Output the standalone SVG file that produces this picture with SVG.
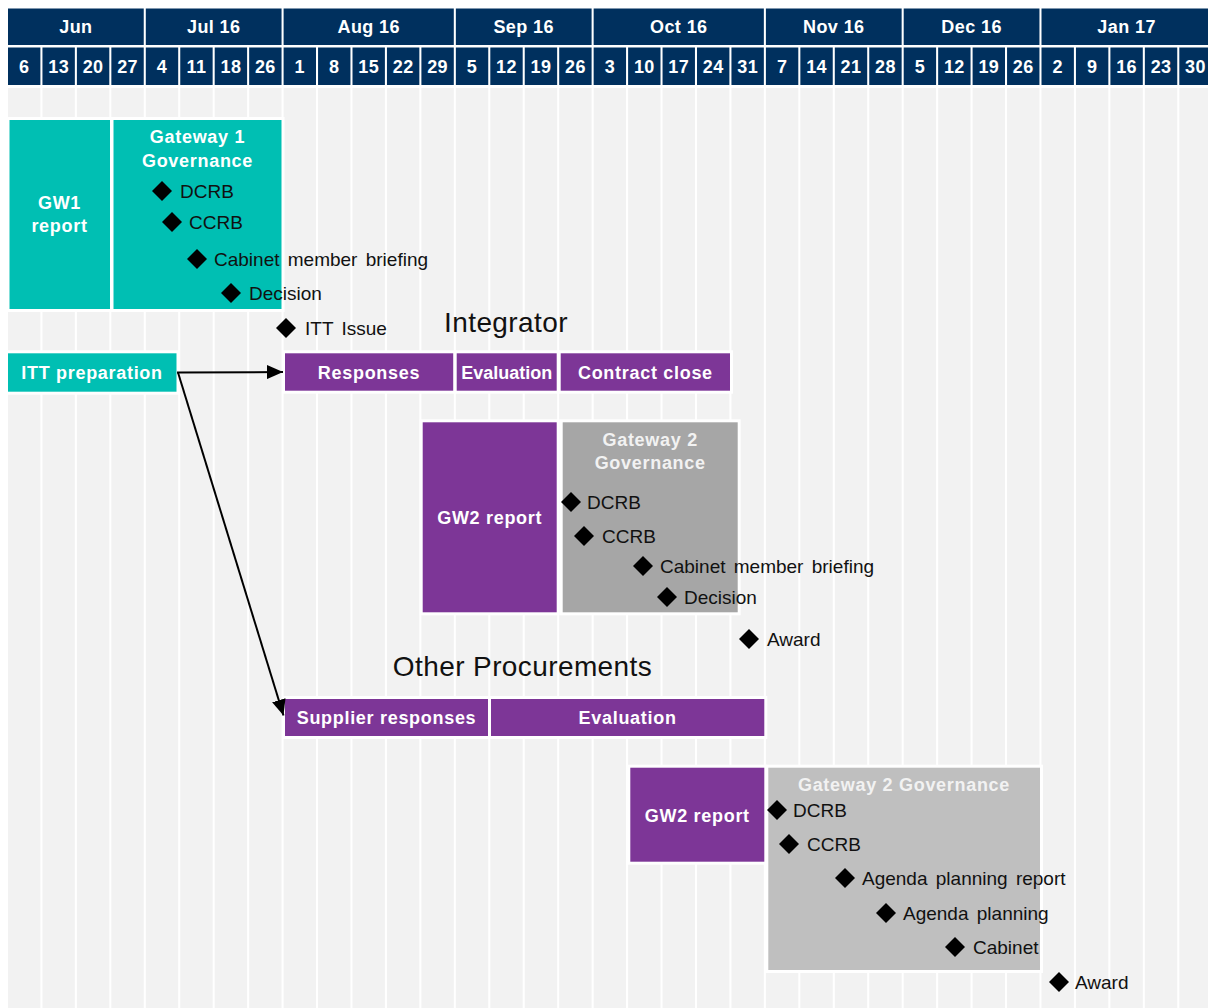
<svg xmlns="http://www.w3.org/2000/svg" width="1208" height="1008" viewBox="0 0 1208 1008">
<style>
.hdr{fill:#00305E}
.col{fill:#F2F2F2}
.ht{font-family:"Liberation Sans",Arial,sans-serif;font-weight:bold;font-size:18px;fill:#fff;text-anchor:middle;letter-spacing:0.4px}
.teal{fill:#00BFB3;stroke:#fff;stroke-width:3}
.purple{fill:#7D3697;stroke:#fff;stroke-width:3}
.gray1{fill:#A6A6A6;stroke:#fff;stroke-width:3}
.gray2{fill:#BFBFBF;stroke:#fff;stroke-width:3}
.bt{font-family:"Liberation Sans",Arial,sans-serif;font-weight:bold;font-size:18px;fill:#fff;text-anchor:middle;letter-spacing:0.7px}
.gt{font-family:"Liberation Sans",Arial,sans-serif;font-weight:bold;font-size:18px;fill:#F2F2F2;text-anchor:middle;letter-spacing:0.7px}
.lt{font-family:"Liberation Sans",Arial,sans-serif;font-size:19px;fill:#111;word-spacing:3px}
.title{font-family:"Liberation Sans",Arial,sans-serif;font-size:28px;fill:#111;text-anchor:middle;letter-spacing:0.4px}
.dm{fill:#000}
.conn{stroke:#000;stroke-width:2;fill:none}
</style>
<defs>
<marker id="arr" markerUnits="userSpaceOnUse" markerWidth="16" markerHeight="14" refX="16" refY="7" orient="auto">
<path d="M0,0 L16,7 L0,14 z" fill="#000"/>
</marker>
<polygon id="dia" points="0,-10 10,0 0,10 -10,0"/>
</defs>
<rect x="0" y="0" width="1208" height="1008" fill="#fff"/>
<g id="grid">
<rect class="col" x="8" y="88" width="32.4" height="920"/>
<rect class="col" x="42.45" y="88" width="32.4" height="920"/>
<rect class="col" x="76.9" y="88" width="32.4" height="920"/>
<rect class="col" x="111.35" y="88" width="32.4" height="920"/>
<rect class="col" x="145.8" y="88" width="32.4" height="920"/>
<rect class="col" x="180.25" y="88" width="32.4" height="920"/>
<rect class="col" x="214.7" y="88" width="32.4" height="920"/>
<rect class="col" x="249.15" y="88" width="32.4" height="920"/>
<rect class="col" x="283.6" y="88" width="32.4" height="920"/>
<rect class="col" x="318.05" y="88" width="32.4" height="920"/>
<rect class="col" x="352.5" y="88" width="32.4" height="920"/>
<rect class="col" x="386.95" y="88" width="32.4" height="920"/>
<rect class="col" x="421.4" y="88" width="32.4" height="920"/>
<rect class="col" x="455.85" y="88" width="32.4" height="920"/>
<rect class="col" x="490.3" y="88" width="32.4" height="920"/>
<rect class="col" x="524.75" y="88" width="32.4" height="920"/>
<rect class="col" x="559.2" y="88" width="32.4" height="920"/>
<rect class="col" x="593.65" y="88" width="32.4" height="920"/>
<rect class="col" x="628.1" y="88" width="32.4" height="920"/>
<rect class="col" x="662.55" y="88" width="32.4" height="920"/>
<rect class="col" x="697" y="88" width="32.4" height="920"/>
<rect class="col" x="731.45" y="88" width="32.4" height="920"/>
<rect class="col" x="765.9" y="88" width="32.4" height="920"/>
<rect class="col" x="800.35" y="88" width="32.4" height="920"/>
<rect class="col" x="834.8" y="88" width="32.4" height="920"/>
<rect class="col" x="869.25" y="88" width="32.4" height="920"/>
<rect class="col" x="903.7" y="88" width="32.4" height="920"/>
<rect class="col" x="938.15" y="88" width="32.4" height="920"/>
<rect class="col" x="972.6" y="88" width="32.4" height="920"/>
<rect class="col" x="1007.05" y="88" width="32.4" height="920"/>
<rect class="col" x="1041.5" y="88" width="32.4" height="920"/>
<rect class="col" x="1075.95" y="88" width="32.4" height="920"/>
<rect class="col" x="1110.4" y="88" width="32.4" height="920"/>
<rect class="col" x="1144.85" y="88" width="32.4" height="920"/>
<rect class="col" x="1179.3" y="88" width="32.4" height="920"/>
</g>
<g id="header-months">
<rect class="hdr" x="8" y="8.5" width="135.75" height="36.5"/>
<rect class="hdr" x="145.8" y="8.5" width="135.75" height="36.5"/>
<rect class="hdr" x="283.6" y="8.5" width="170.2" height="36.5"/>
<rect class="hdr" x="455.85" y="8.5" width="135.75" height="36.5"/>
<rect class="hdr" x="593.65" y="8.5" width="170.2" height="36.5"/>
<rect class="hdr" x="765.9" y="8.5" width="135.75" height="36.5"/>
<rect class="hdr" x="903.7" y="8.5" width="135.75" height="36.5"/>
<rect class="hdr" x="1041.5" y="8.5" width="170.2" height="36.5"/>
<text class="ht" x="75.9" y="33">Jun</text>
<text class="ht" x="213.7" y="33">Jul 16</text>
<text class="ht" x="368.7" y="33">Aug 16</text>
<text class="ht" x="523.7" y="33">Sep 16</text>
<text class="ht" x="678.75" y="33">Oct 16</text>
<text class="ht" x="833.8" y="33">Nov 16</text>
<text class="ht" x="971.6" y="33">Dec 16</text>
<text class="ht" x="1126.6" y="33">Jan 17</text>
</g>
<g id="header-weeks">
<rect class="hdr" x="8" y="47.5" width="32.4" height="37.5"/>
<rect class="hdr" x="42.45" y="47.5" width="32.4" height="37.5"/>
<rect class="hdr" x="76.9" y="47.5" width="32.4" height="37.5"/>
<rect class="hdr" x="111.35" y="47.5" width="32.4" height="37.5"/>
<rect class="hdr" x="145.8" y="47.5" width="32.4" height="37.5"/>
<rect class="hdr" x="180.25" y="47.5" width="32.4" height="37.5"/>
<rect class="hdr" x="214.7" y="47.5" width="32.4" height="37.5"/>
<rect class="hdr" x="249.15" y="47.5" width="32.4" height="37.5"/>
<rect class="hdr" x="283.6" y="47.5" width="32.4" height="37.5"/>
<rect class="hdr" x="318.05" y="47.5" width="32.4" height="37.5"/>
<rect class="hdr" x="352.5" y="47.5" width="32.4" height="37.5"/>
<rect class="hdr" x="386.95" y="47.5" width="32.4" height="37.5"/>
<rect class="hdr" x="421.4" y="47.5" width="32.4" height="37.5"/>
<rect class="hdr" x="455.85" y="47.5" width="32.4" height="37.5"/>
<rect class="hdr" x="490.3" y="47.5" width="32.4" height="37.5"/>
<rect class="hdr" x="524.75" y="47.5" width="32.4" height="37.5"/>
<rect class="hdr" x="559.2" y="47.5" width="32.4" height="37.5"/>
<rect class="hdr" x="593.65" y="47.5" width="32.4" height="37.5"/>
<rect class="hdr" x="628.1" y="47.5" width="32.4" height="37.5"/>
<rect class="hdr" x="662.55" y="47.5" width="32.4" height="37.5"/>
<rect class="hdr" x="697" y="47.5" width="32.4" height="37.5"/>
<rect class="hdr" x="731.45" y="47.5" width="32.4" height="37.5"/>
<rect class="hdr" x="765.9" y="47.5" width="32.4" height="37.5"/>
<rect class="hdr" x="800.35" y="47.5" width="32.4" height="37.5"/>
<rect class="hdr" x="834.8" y="47.5" width="32.4" height="37.5"/>
<rect class="hdr" x="869.25" y="47.5" width="32.4" height="37.5"/>
<rect class="hdr" x="903.7" y="47.5" width="32.4" height="37.5"/>
<rect class="hdr" x="938.15" y="47.5" width="32.4" height="37.5"/>
<rect class="hdr" x="972.6" y="47.5" width="32.4" height="37.5"/>
<rect class="hdr" x="1007.05" y="47.5" width="32.4" height="37.5"/>
<rect class="hdr" x="1041.5" y="47.5" width="32.4" height="37.5"/>
<rect class="hdr" x="1075.95" y="47.5" width="32.4" height="37.5"/>
<rect class="hdr" x="1110.4" y="47.5" width="32.4" height="37.5"/>
<rect class="hdr" x="1144.85" y="47.5" width="32.4" height="37.5"/>
<rect class="hdr" x="1179.3" y="47.5" width="32.4" height="37.5"/>
<text class="ht" x="24.2" y="73">6</text>
<text class="ht" x="58.65" y="73">13</text>
<text class="ht" x="93.1" y="73">20</text>
<text class="ht" x="127.55" y="73">27</text>
<text class="ht" x="162" y="73">4</text>
<text class="ht" x="196.45" y="73">11</text>
<text class="ht" x="230.9" y="73">18</text>
<text class="ht" x="265.35" y="73">26</text>
<text class="ht" x="299.8" y="73">1</text>
<text class="ht" x="334.25" y="73">8</text>
<text class="ht" x="368.7" y="73">15</text>
<text class="ht" x="403.15" y="73">22</text>
<text class="ht" x="437.6" y="73">29</text>
<text class="ht" x="472.05" y="73">5</text>
<text class="ht" x="506.5" y="73">12</text>
<text class="ht" x="540.95" y="73">19</text>
<text class="ht" x="575.4" y="73">26</text>
<text class="ht" x="609.85" y="73">3</text>
<text class="ht" x="644.3" y="73">10</text>
<text class="ht" x="678.75" y="73">17</text>
<text class="ht" x="713.2" y="73">24</text>
<text class="ht" x="747.65" y="73">31</text>
<text class="ht" x="782.1" y="73">7</text>
<text class="ht" x="816.55" y="73">14</text>
<text class="ht" x="851" y="73">21</text>
<text class="ht" x="885.45" y="73">28</text>
<text class="ht" x="919.9" y="73">5</text>
<text class="ht" x="954.35" y="73">12</text>
<text class="ht" x="988.8" y="73">19</text>
<text class="ht" x="1023.25" y="73">26</text>
<text class="ht" x="1057.7" y="73">2</text>
<text class="ht" x="1092.15" y="73">9</text>
<text class="ht" x="1126.6" y="73">16</text>
<text class="ht" x="1161.05" y="73">23</text>
<text class="ht" x="1195.5" y="73">30</text>
</g>
<g id="gw1-report">
<rect class="teal" x="8" y="118.5" width="103.5" height="192"/>
<text class="bt" x="59.5" y="209">GW1</text>
<text class="bt" x="59.5" y="232">report</text>
</g>
<g id="gw1-governance">
<rect class="teal" x="112" y="118.5" width="171" height="192"/>
<text class="bt" x="197.5" y="143">Gateway 1</text>
<text class="bt" x="197.5" y="166.5">Governance</text>
</g>
<g id="itt-preparation">
<rect class="teal" x="6.5" y="351.8" width="171.5" height="41.4"/>
<text class="bt" x="92" y="379">ITT preparation</text>
</g>
<g id="title-integrator">
<text class="title" x="506" y="331.5">Integrator</text>
</g>
<g id="responses">
<rect class="purple" x="283.5" y="351.8" width="171.3" height="40.4"/>
<text class="bt" x="369" y="379">Responses</text>
</g>
<g id="evaluation-integrator">
<rect class="purple" x="455.2" y="351.8" width="103" height="40.4"/>
<text class="bt" x="506.7" y="379" style="letter-spacing:0">Evaluation</text>
</g>
<g id="contract-close">
<rect class="purple" x="559.2" y="351.8" width="172.3" height="40.4"/>
<text class="bt" x="645.4" y="379">Contract close</text>
</g>
<g id="gw2-report-integrator">
<rect class="purple" x="421.2" y="420.8" width="137" height="193"/>
<text class="bt" x="489.7" y="523.5">GW2 report</text>
</g>
<g id="gw2-governance-integrator">
<rect class="gray1" x="561.2" y="420.8" width="178" height="193"/>
<text class="gt" x="650.2" y="445.5">Gateway 2</text>
<text class="gt" x="650.2" y="468.5">Governance</text>
</g>
<g id="title-other">
<text class="title" x="522.5" y="676">Other Procurements</text>
</g>
<g id="supplier-responses">
<rect class="purple" x="283.5" y="697.5" width="206" height="40"/>
<text class="bt" x="386.5" y="723.5">Supplier responses</text>
</g>
<g id="evaluation-other">
<rect class="purple" x="489.5" y="697.5" width="276.3" height="40"/>
<text class="bt" x="627.6" y="723.5">Evaluation</text>
</g>
<g id="gw2-report-other">
<rect class="purple" x="628.8" y="766.2" width="137" height="97"/>
<text class="bt" x="697.3" y="821.5">GW2 report</text>
</g>
<g id="gw2-governance-other">
<rect class="gray2" x="766.8" y="766.2" width="274.7" height="205.3"/>
<text class="gt" x="904" y="791">Gateway 2 Governance</text>
</g>
<g id="ms-gw1-dcrb"><use href="#dia" class="dm" x="162" y="191"/><text class="lt" x="180" y="198">DCRB</text></g>
<g id="ms-gw1-ccrb"><use href="#dia" class="dm" x="172" y="222"/><text class="lt" x="189" y="229">CCRB</text></g>
<g id="ms-gw1-cabinet"><use href="#dia" class="dm" x="197" y="259"/><text class="lt" x="214" y="266">Cabinet member briefing</text></g>
<g id="ms-gw1-decision"><use href="#dia" class="dm" x="231" y="293"/><text class="lt" x="249" y="300">Decision</text></g>
<g id="ms-itt-issue"><use href="#dia" class="dm" x="286" y="328"/><text class="lt" x="305" y="335">ITT Issue</text></g>
<g id="ms-gw2i-dcrb"><use href="#dia" class="dm" x="571" y="502"/><text class="lt" x="587" y="509">DCRB</text></g>
<g id="ms-gw2i-ccrb"><use href="#dia" class="dm" x="584" y="536"/><text class="lt" x="602" y="543">CCRB</text></g>
<g id="ms-gw2i-cabinet"><use href="#dia" class="dm" x="643" y="566"/><text class="lt" x="660" y="573">Cabinet member briefing</text></g>
<g id="ms-gw2i-decision"><use href="#dia" class="dm" x="667" y="597"/><text class="lt" x="684" y="604">Decision</text></g>
<g id="ms-gw2i-award"><use href="#dia" class="dm" x="749" y="639"/><text class="lt" x="767" y="646">Award</text></g>
<g id="ms-gw2o-dcrb"><use href="#dia" class="dm" x="777" y="810"/><text class="lt" x="793" y="817">DCRB</text></g>
<g id="ms-gw2o-ccrb"><use href="#dia" class="dm" x="789" y="844"/><text class="lt" x="807" y="851">CCRB</text></g>
<g id="ms-gw2o-apr"><use href="#dia" class="dm" x="845" y="878"/><text class="lt" x="862" y="885">Agenda planning report</text></g>
<g id="ms-gw2o-ap"><use href="#dia" class="dm" x="886" y="913"/><text class="lt" x="903" y="920">Agenda planning</text></g>
<g id="ms-gw2o-cabinet"><use href="#dia" class="dm" x="955" y="947"/><text class="lt" x="973" y="954">Cabinet</text></g>
<g id="ms-gw2o-award"><use href="#dia" class="dm" x="1059" y="982"/><text class="lt" x="1075" y="989">Award</text></g>
<g id="connectors">
<line class="conn" x1="177" y1="372.5" x2="283" y2="372" marker-end="url(#arr)"/>
<line class="conn" x1="178" y1="372.5" x2="283.5" y2="715.5" marker-end="url(#arr)"/>
</g>
</svg>
